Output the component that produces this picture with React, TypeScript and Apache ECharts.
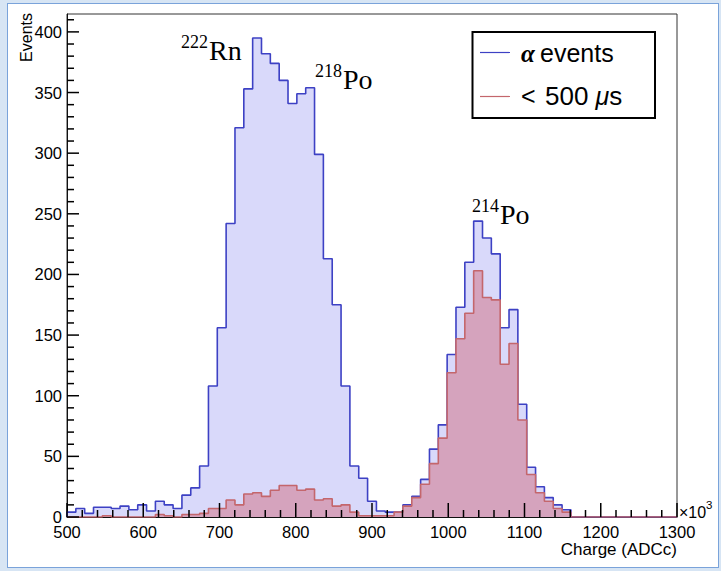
import React, { useEffect, useRef } from "react";
import * as echarts from "echarts";

// Histogram binning (charge in units of 10^3 ADCc)
const chargeMin = 500;
const chargeMax = 1300;
const binCount = 69;

// All alpha candidates per bin
const alphaCounts = [
  4, 7, 3, 8, 8, 7, 9, 6, 10, 5,
  13, 10, 7, 18, 24, 42, 108, 156, 242, 321,
  353, 395, 382, 374, 360, 341, 349, 354, 299, 213,
  175, 108, 42, 32, 13, 5, 4, 4, 10, 17,
  31, 56, 76, 134, 173, 210, 244, 230, 217, 156,
  171, 93, 41, 25, 16, 10, 6, 0, 0, 0,
  0, 0, 0, 0, 0, 0, 0, 0, 0,
];

// Alphas followed by a coincidence within 500 us
const coincCounts = [
  0, 0, 0, 0, 1, 0, 0, 0, 0, 0,
  2, 1, 0, 2, 2, 3, 7, 7, 14, 10,
  19, 20, 17, 22, 26, 26, 22, 23, 14, 15,
  9, 10, 4, 1, 1, 1, 1, 4, 9, 16,
  27, 44, 65, 119, 147, 168, 203, 181, 179, 126,
  143, 80, 35, 20, 13, 7, 4, 0, 0, 0,
  0, 0, 0, 0, 0, 0, 0, 0, 0,
];

const xTicks = [500, 600, 700, 800, 900, 1000, 1100, 1200, 1300];
const yTicks = [0, 50, 100, 150, 200, 250, 300, 350, 400];
const xMinorStep = 20;
const yMinorStep = 10;

const SANS = "'Liberation Sans', Arial, Helvetica, sans-serif";
const SERIF = "'Liberation Serif', 'Times New Roman', serif";

const GRID = { left: 67, top: 14, width: 610, height: 503 };

// Turn per-bin counts into a stepped outline (bin edges on x)
function stepOutline(counts: number[]): number[][] {
  const w = (chargeMax - chargeMin) / binCount;
  const pts: number[][] = [[chargeMin, 0]];
  counts.forEach((c, i) => {
    pts.push([chargeMin + i * w, c]);
    pts.push([chargeMin + (i + 1) * w, c]);
  });
  pts.push([chargeMax, 0]);
  return pts;
}

const yMax = Math.max(...alphaCounts) * 1.05;

// Tick table: [x, y, length, axis (0 = x, 1 = y)]
function buildTicks(): number[][] {
  const out: number[][] = [];
  const x0 = xTicks[0];
  const x1 = xTicks[xTicks.length - 1];
  for (let v = x0; v <= x1 + 1e-9; v += xMinorStep) {
    out.push([v, 0, xTicks.includes(v) ? 14 : 7, 0]);
  }
  for (let v = 0; v <= yMax; v += yMinorStep) {
    out.push([x0, v, yTicks.includes(v) ? 12 : 7, 1]);
  }
  return out;
}

function txt(x: number, y: number, text: string, fontSize: number, family: string, align = "left", extra: any = {}) {
  return {
    type: "text",
    x,
    y,
    z: 100,
    style: { text, fontSize, fontFamily: family, fill: "#000", align, verticalAlign: "middle", ...extra },
  };
}

function buildOption(): echarts.EChartsOption {
  return {
    animation: false,
    grid: {
      ...GRID,
      show: true,
      borderColor: "#333",
      borderWidth: 1,
      backgroundColor: "transparent",
    },
    xAxis: {
      type: "value",
      min: xTicks[0],
      max: xTicks[xTicks.length - 1],
      interval: 100,
      axisLine: { show: true, onZero: false, lineStyle: { color: "#111", width: 1 } },
      axisTick: { show: false },
      minorTick: { show: false },
      axisLabel: {
        show: true,
        margin: 6,
        color: "#000",
        fontSize: 16.5,
        fontFamily: SANS,
        showMinLabel: true,
        showMaxLabel: true,
        formatter: (v: number) => String(v),
      },
      splitLine: { show: false },
    },
    yAxis: {
      type: "value",
      min: 0,
      max: yMax,
      splitLine: { show: false },
      axisLine: { show: true, lineStyle: { color: "#111", width: 1 } },
      axisTick: { show: false },
      axisLabel: {
        show: true,
        customValues: yTicks,
        margin: 5,
        color: "#000",
        fontSize: 16.5,
        fontFamily: SANS,
        formatter: (v: number) => String(v),
      },
    } as any,
    series: [
      {
        name: "alpha events",
        type: "line",
        data: stepOutline(alphaCounts),
        showSymbol: false,
        symbol: "none",
        z: 2,
        lineStyle: { color: "#3d41c4", width: 1.6 },
        areaStyle: { color: "#d9d9fa", opacity: 1 },
      },
      {
        name: "< 500 us",
        type: "line",
        data: stepOutline(coincCounts),
        showSymbol: false,
        symbol: "none",
        z: 3,
        lineStyle: { color: "#c4666c", width: 1.6 },
        areaStyle: { color: "#d5a3bd", opacity: 1 },
      },
    ],
    graphic: [
      // y title
      {
        type: "text",
        x: 26,
        y: 13,
        rotation: Math.PI / 2,
        z: 100,
        style: {
          text: "Events",
          fontSize: 16,
          fontFamily: SANS,
          fill: "#000",
          align: "right",
          verticalAlign: "middle",
        },
      },
      // x title
      txt(677, 549, "Charge (ADCc)", 17, SANS, "right"),
      // x10^3 multiplier
      txt(679, 512, "\u00d710", 16, SANS),
      txt(706, 505, "3", 11.5, SANS),
      // peak labels
      txt(208, 42, "222", 18, SERIF, "right"),
      txt(209, 50, "Rn", 28, SERIF),
      txt(342, 71, "218", 18, SERIF, "right"),
      txt(343, 79, "Po", 28, SERIF),
      txt(499, 206, "214", 18, SERIF, "right"),
      txt(500, 214, "Po", 28, SERIF),
      // legend box
      {
        type: "rect",
        z: 100,
        shape: { x: 472.5, y: 32, width: 182.5, height: 86 },
        style: { fill: "#fff", stroke: "#000", lineWidth: 2 },
      },
      {
        type: "line",
        z: 101,
        shape: { x1: 480, y1: 52.5, x2: 510, y2: 52.5 },
        style: { stroke: "#3d41c4", lineWidth: 1.2 },
      },
      txt(521, 53, "\u03b1", 25, SERIF, "left", { fontStyle: "italic", fontWeight: "bold" }),
      txt(540, 53, "events", 25, SANS),
      {
        type: "line",
        z: 101,
        shape: { x1: 480, y1: 96.5, x2: 510, y2: 96.5 },
        style: { stroke: "#c4666c", lineWidth: 1.2 },
      },
      txt(521, 96, "<", 25, SANS),
      txt(545, 96, "500 {m|\u03bc}s", 26, SANS, "left", {
        rich: { m: { fontStyle: "italic", fontSize: 25, fontFamily: SANS, fill: "#000" } },
      }),
    ],
  } as echarts.EChartsOption;
}

// Frame ticks, laid on top of the histograms with the same scales
function buildTickOption(): echarts.EChartsOption {
  return {
    animation: false,
    grid: { ...GRID, show: false },
    xAxis: { type: "value", min: xTicks[0], max: xTicks[xTicks.length - 1], show: false },
    yAxis: { type: "value", min: 0, max: yMax, show: false },
    series: [
      {
        type: "custom",
        coordinateSystem: "cartesian2d",
        clip: false,
        z: 10,
        data: buildTicks(),
        encode: { x: 0, y: 1 },
        renderItem: (_params: any, api: any) => {
          const p = api.coord([api.value(0), api.value(1)]);
          const len = api.value(2);
          const isX = api.value(3) === 0;
          const shape = isX
            ? { x1: p[0], y1: p[1], x2: p[0], y2: p[1] - len }
            : { x1: p[0], y1: p[1], x2: p[0] + len, y2: p[1] };
          return { type: "line", shape, style: { stroke: "#000", lineWidth: 1.5 } };
        },
      } as any,
    ],
  } as echarts.EChartsOption;
}

export default function App() {
  const ref = useRef<HTMLDivElement>(null);
  const tickRef = useRef<HTMLDivElement>(null);
  useEffect(() => {
    if (!ref.current || !tickRef.current) return;
    const chart = echarts.init(ref.current, null, { renderer: "svg" });
    chart.setOption(buildOption());
    const ticks = echarts.init(tickRef.current, null, { renderer: "svg" });
    ticks.setOption(buildTickOption());
    return () => {
      chart.dispose();
      ticks.dispose();
    };
  }, []);
  return (
    <div
      style={{
        position: "absolute",
        left: 0,
        top: 0,
        width: 721,
        height: 571,
        background: "#d7e5f4",
        overflow: "hidden",
      }}
    >
      <div
        style={{
          position: "absolute",
          left: 7,
          top: 3,
          width: 710,
          height: 563,
          background: "#ffffff",
          border: "1px solid #7aa3da",
        }}
      />
      <div ref={ref} style={{ position: "absolute", left: 0, top: 0, width: 721, height: 571 }} />
      <div
        ref={tickRef}
        style={{ position: "absolute", left: 0, top: 0, width: 721, height: 571, pointerEvents: "none" }}
      />
    </div>
  );
}
